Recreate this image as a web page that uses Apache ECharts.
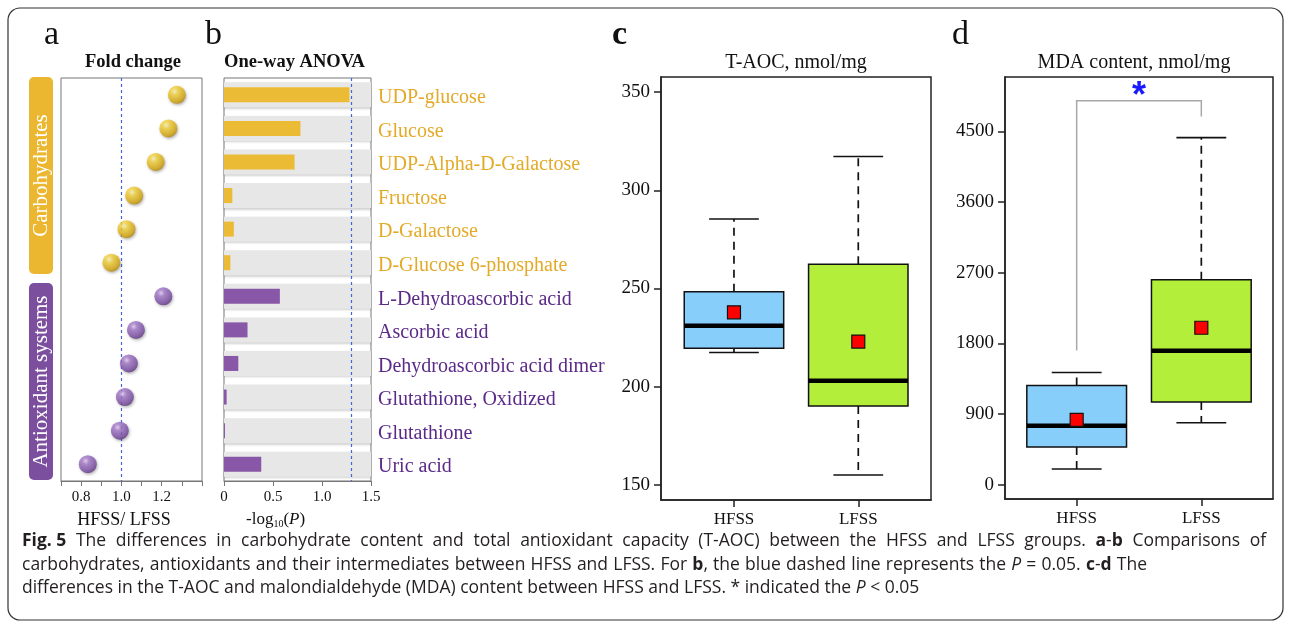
<!DOCTYPE html>
<html><head><meta charset="utf-8">
<script src="https://cdn.jsdelivr.net/npm/echarts@6/dist/echarts.min.js"></script>
<style>html,body{margin:0;padding:0;background:#fff}#c{width:1290px;height:628px}</style>
</head><body><div id="c"></div>
<script>
// ---------------- data ----------------
const categories = ['UDP-glucose','Glucose','UDP-Alpha-D-Galactose','Fructose','D-Galactose','D-Glucose 6-phosphate',
  'L-Dehydroascorbic acid','Ascorbic acid','Dehydroascorbic acid dimer','Glutathione, Oxidized','Glutathione','Uric acid'];
const groupNames = ['Carbohydrates','Antioxidant systems'];
const groupOf = [0,0,0,0,0,0,1,1,1,1,1,1];
const foldChange = [1.275,1.233,1.170,1.063,1.025,0.950,1.208,1.072,1.037,1.017,0.992,0.833];
const negLogP = [1.28,0.78,0.72,0.085,0.10,0.065,0.57,0.24,0.146,0.027,0.01,0.38];
const foldTickLabels = ['0.8','1.0','1.2'];
const pTickLabels = ['0','0.5','1.0','1.5'];
const boxCats = ['HFSS','LFSS'];
// [min, Q1, median, Q3, max]
const taocHFSS = [217.4,219.6,231.1,248.4,285.4];
const taocLFSS = [155.1,190.2,203.0,262.4,317.2];
const taocMean = [237.9,223.0];
const mdaHFSS = [200,480,751,1264,1430];
const mdaLFSS = [789,1053,1706,2610,4421];
const mdaMean = [827,1999];
const taocTicks = [150,200,250,300,350];
const mdaTicks = [0,900,1800,2700,3600,4500];
const sigLegs = [1710,4690];
const sigTop = 4890;

// ---------------- styles ----------------
const SERIF = 'Liberation Serif';
const GOLD_TXT = '#E3AA28', PUR_TXT = '#5B2A89';
const GOLD_BAR = '#ECBB35', PUR_BAR = '#8957A8';
const GOLD_BOX = '#EBB731', PUR_BOX = '#7B4F9E';
const REF_BLUE = '#3f66e0';
const boxFill = ['#87CEFA','#B3EE3A'];
const ballGrad = [
  {type:'radial',x:0.38,y:0.32,r:0.75,colorStops:[{offset:0,color:'#fff8cc'},{offset:0.25,color:'#f7d63e'},{offset:0.75,color:'#d8a80f'},{offset:1,color:'#a87c05'}]},
  {type:'radial',x:0.38,y:0.32,r:0.75,colorStops:[{offset:0,color:'#e6d0f6'},{offset:0.25,color:'#a67bcc'},{offset:0.75,color:'#7a4ca3'},{offset:1,color:'#553075'}]}
];
const GA = {left:61, top:78, width:141, height:403};
const GB = {left:224, top:78, width:147, height:403};
const GC = {left:661, top:77, width:270, height:423};
const GD = {left:1005, top:77, width:268, height:422};

const chart = echarts.init(document.getElementById('c'), null, {renderer:'canvas'});

function boxItem(x, s, mean, ci) {
  return {value:[x, s[0], s[1], s[2], s[3], s[4], mean], itemStyle:{color:boxFill[ci]}};
}
function renderBox(params, api) {
  const x = api.value(0);
  const lo = api.value(1), q1 = api.value(2), med = api.value(3), q3 = api.value(4), hi = api.value(5), mean = api.value(6);
  const fill = api.visual('color');
  const cx = api.coord([x, med])[0];
  const xl = api.coord([x-0.4, med])[0], xr = api.coord([x+0.4, med])[0];
  const cl = api.coord([x-0.2, med])[0], cr = api.coord([x+0.2, med])[0];
  const y = v => api.coord([x, v])[1];
  const st = {stroke:'#111', lineWidth:1.6};
  const m = api.coord([x, mean]);
  return {type:'group', children:[
    {type:'line', shape:{x1:cx,y1:y(q3),x2:cx,y2:y(hi)}, style:{stroke:'#111',lineWidth:1.7,lineDash:[8,6]}},
    {type:'line', shape:{x1:cx,y1:y(q1),x2:cx,y2:y(lo)}, style:{stroke:'#111',lineWidth:1.7,lineDash:[8,6]}},
    {type:'line', shape:{x1:cl,y1:y(hi),x2:cr,y2:y(hi)}, style:st},
    {type:'line', shape:{x1:cl,y1:y(lo),x2:cr,y2:y(lo)}, style:st},
    {type:'rect', shape:{x:xl,y:y(q3),width:xr-xl,height:y(q1)-y(q3)}, style:{fill:fill,stroke:'#111',lineWidth:1.5}},
    {type:'line', shape:{x1:xl,y1:y(med),x2:xr,y2:y(med)}, style:{stroke:'#000',lineWidth:4.5}},
    {type:'rect', shape:{x:m[0]-6.5,y:m[1]-6.5,width:13,height:13}, style:{fill:'#FF0000',stroke:'#111',lineWidth:1.2}}
  ]};
}
function renderSig(params, api) {
  const a = api.coord([api.value(0), api.value(2)]);
  const t1 = api.coord([api.value(0), api.value(4)]);
  const t2 = api.coord([api.value(1), api.value(4)]);
  const b = api.coord([api.value(1), api.value(3)]);
  return {type:'group', children:[
    {type:'polyline', shape:{points:[a,t1,t2,b]}, style:{stroke:'#a8a8a8',lineWidth:1.5,fill:null}},
    {type:'text', x:(t1[0]+t2[0])/2, y:t1[1]+14, style:{text:'*',fill:'#1a1aff',font:'bold 36px "Liberation Sans"',align:'center',verticalAlign:'bottom'}}
  ]};
}

const valAxisCommon = (grid, ticks, fs) => ({
  type:'value', gridIndex:grid,
  axisLine:{show:true,onZero:false,lineStyle:{color:'#222',width:1.5}},
  axisTick:{show:true,length:7,lineStyle:{color:'#222',width:1.5},customValues:ticks},
  axisLabel:{customValues:ticks,margin:11,fontFamily:SERIF,fontSize:fs,color:'#111',formatter:v=>String(v)},
  splitLine:{show:false}
});

const capFont = '17.5px "Open Sans"';
const line1Words = ['{b|Fig. 5}','The','differences','in','carbohydrate','content','and','total','antioxidant','capacity','(T-AOC)','between','the','HFSS','and','LFSS','groups.','{b|a}-{b|b}','Comparisons','of'];
const line2Words = ['carbohydrates,','antioxidants','and','their','intermediates','between','HFSS','and','LFSS.','For','{b|b},','the','blue','dashed','line','represents','the','{i|P}','=','0.05.','{b|c}-{b|d}','The'];
const capRich = {
  b:{fontWeight:'bold',fontFamily:'Open Sans',fontSize:17.5},
  i:{fontStyle:'italic',fontFamily:'Open Sans',fontSize:17.5},
  w:{width:9.6,fontFamily:'Open Sans',fontSize:17.5},
  w2:{width:5.2,fontFamily:'Open Sans',fontSize:17.5}
};

const option = {
  animation:false,
  backgroundColor:'#fff',
  grid:[
    Object.assign({show:true,borderColor:'#777',borderWidth:1,backgroundColor:'transparent'}, GA),
    Object.assign({show:true,borderColor:'#777',borderWidth:1,backgroundColor:'transparent'}, GB),
    Object.assign({show:true,borderColor:'#222',borderWidth:1.5,backgroundColor:'transparent'}, GC),
    Object.assign({show:true,borderColor:'#222',borderWidth:1.5,backgroundColor:'transparent'}, GD)
  ],
  xAxis:[
    {type:'value',gridIndex:0,min:0.7,max:1.4,interval:0.1,
      axisLine:{show:true,onZero:false,lineStyle:{color:'#777'}},
      axisTick:{show:true,length:5,lineStyle:{color:'#777'}},
      axisLabel:{margin:9,fontFamily:SERIF,fontSize:15,color:'#111',showMinLabel:true,showMaxLabel:true,
        formatter:v=>{const s=v.toFixed(1);return foldTickLabels.includes(s)?s:'';}},
      splitLine:{show:false}},
    {type:'value',gridIndex:1,min:0,max:1.5,interval:0.5,
      axisLine:{show:true,onZero:false,lineStyle:{color:'#777'}},
      axisTick:{show:true,length:5,lineStyle:{color:'#777'}},
      axisLabel:{margin:9,fontFamily:SERIF,fontSize:15,color:'#111',
        formatter:v=>{const s=v===0?'0':v.toFixed(1);return pTickLabels.includes(s)?s:'';}},
      splitLine:{show:false}},
    Object.assign(valAxisCommon(2,[1,2],17),{min:0.413,max:2.585,
      axisLabel:{customValues:[1,2],margin:11,fontFamily:SERIF,fontSize:17,color:'#111',formatter:v=>boxCats[Math.round(v)-1]||''}}),
    Object.assign(valAxisCommon(3,[1,2],17),{min:0.425,max:2.575,
      axisLabel:{customValues:[1,2],margin:11,fontFamily:SERIF,fontSize:17,color:'#111',formatter:v=>boxCats[Math.round(v)-1]||''}})
  ],
  yAxis:[
    {type:'category',gridIndex:0,data:categories,inverse:true,show:false},
    {type:'category',gridIndex:1,data:categories,inverse:true,position:'right',
      axisLine:{show:false},axisTick:{show:false},
      axisLabel:{show:true,margin:7,fontFamily:SERIF,fontSize:20,
        formatter:(v,i)=>'{'+(groupOf[i]===0?'g':'p')+'|'+v+'}',
        rich:{
          g:{color:GOLD_TXT,fontFamily:SERIF,fontSize:20,padding:[6,0,0,0]},
          p:{color:PUR_TXT,fontFamily:SERIF,fontSize:20,padding:[6,0,0,0]}
        }}},
    {type:'category',gridIndex:1,data:categories,inverse:true,show:false},
    Object.assign(valAxisCommon(2,taocTicks,19),{min:142.36,max:357.64}),
    Object.assign(valAxisCommon(3,mdaTicks,19),{min:-182,max:5193})
  ],
  series:[
    {type:'scatter',xAxisIndex:0,yAxisIndex:0,symbolSize:18,z:5,
      data:foldChange.map((v,i)=>({value:[v,i],itemStyle:{color:ballGrad[groupOf[i]]}})),
      itemStyle:{shadowBlur:3,shadowColor:'rgba(0,0,0,0.35)',shadowOffsetX:1,shadowOffsetY:1.5},
      markLine:{silent:true,symbol:'none',label:{show:false},
        lineStyle:{color:REF_BLUE,type:[3,3],width:1.2,opacity:1},
        emphasis:{disabled:true},
        data:[{xAxis:1.0,lineStyle:{color:REF_BLUE,type:[3,3],width:1.2}}]}},
    {type:'bar',xAxisIndex:1,yAxisIndex:2,barWidth:25,silent:true,z:1,
      data:categories.map(()=>1.5),
      itemStyle:{color:'#e7e7e7',shadowBlur:2,shadowColor:'rgba(0,0,0,0.18)',shadowOffsetY:1.5}},
    {type:'bar',xAxisIndex:1,yAxisIndex:1,barWidth:15,z:3,
      data:negLogP.map((v,i)=>({value:v,itemStyle:{color:groupOf[i]===0?GOLD_BAR:PUR_BAR}})),
      markLine:{silent:true,symbol:'none',label:{show:false},
        lineStyle:{color:REF_BLUE,type:[3,3],width:1.2,opacity:1},
        emphasis:{disabled:true},
        data:[{xAxis:1.30103,lineStyle:{color:REF_BLUE,type:[3,3],width:1.2}}]}},
    {type:'custom',xAxisIndex:2,yAxisIndex:3,renderItem:renderBox,clip:false,
      data:[boxItem(1,taocHFSS,taocMean[0],0),boxItem(2,taocLFSS,taocMean[1],1)]},
    {type:'custom',xAxisIndex:3,yAxisIndex:4,renderItem:renderBox,clip:false,
      data:[boxItem(1,mdaHFSS,mdaMean[0],0),boxItem(2,mdaLFSS,mdaMean[1],1)]},
    {type:'custom',xAxisIndex:3,yAxisIndex:4,renderItem:renderSig,clip:false,
      data:[[1,2,sigLegs[0],sigLegs[1],sigTop]]}
  ],
  graphic:[
    {type:'rect',shape:{x:8,y:8,width:1275,height:612,r:12},style:{fill:null,stroke:'#333',lineWidth:1.2},silent:true},
    // panel letters
    {type:'text',x:44,y:52,style:{text:'a',font:'34px "Liberation Serif"',fill:'#111',verticalAlign:'bottom'}},
    {type:'text',x:205,y:52,style:{text:'b',font:'34px "Liberation Serif"',fill:'#111',verticalAlign:'bottom'}},
    {type:'text',x:612,y:52,style:{text:'c',font:'bold 34px "Liberation Serif"',fill:'#111',verticalAlign:'bottom'}},
    {type:'text',x:952,y:52,style:{text:'d',font:'34px "Liberation Serif"',fill:'#111',verticalAlign:'bottom'}},
    // panel titles
    {type:'text',x:133,y:62,style:{text:'Fold change',font:'bold 18.5px "Liberation Serif"',fill:'#111',align:'center',verticalAlign:'middle'}},
    {type:'text',x:224,y:62,style:{text:'One-way ANOVA',font:'bold 18.5px "Liberation Serif"',fill:'#111',align:'left',verticalAlign:'middle'}},
    {type:'text',x:796,y:63,style:{text:'T-AOC, nmol/mg',font:'20px "Liberation Serif"',fill:'#111',align:'center',verticalAlign:'middle'}},
    {type:'text',x:1134,y:63,style:{text:'MDA content, nmol/mg',font:'20px "Liberation Serif"',fill:'#111',align:'center',verticalAlign:'middle'}},
    // axis titles a, b
    {type:'text',x:124,y:520,style:{text:'HFSS/ LFSS',font:'18px "Liberation Serif"',fill:'#111',align:'center',verticalAlign:'middle'}},
    {type:'text',x:246,y:520,style:{text:'-log{s|10}({i|P})',font:'17px "Liberation Serif"',fill:'#111',align:'left',verticalAlign:'middle',
      rich:{s:{fontSize:10,fontFamily:SERIF,padding:[8,0,0,0]},i:{fontStyle:'italic',fontSize:17,fontFamily:SERIF}}}},
    // group boxes
    {type:'rect',shape:{x:29,y:77,width:24,height:197,r:5},style:{fill:GOLD_BOX}},
    {type:'text',x:41,y:175.5,rotation:Math.PI/2,style:{text:groupNames[0],font:'21px "Liberation Serif"',fill:'#fff',align:'center',verticalAlign:'middle'}},
    {type:'rect',shape:{x:29,y:283,width:24,height:197,r:5},style:{fill:PUR_BOX}},
    {type:'text',x:41,y:381.5,rotation:Math.PI/2,style:{text:groupNames[1],font:'21px "Liberation Serif"',fill:'#fff',align:'center',verticalAlign:'middle'}},
    // caption
    {type:'text',x:22,y:541,style:{text:line1Words.join('{w| }'),font:capFont,fill:'#231f20',verticalAlign:'middle',rich:capRich}},
    {type:'text',x:22,y:565,style:{text:line2Words.join('{w2| }'),font:capFont,fill:'#231f20',verticalAlign:'middle',rich:capRich}},
    {type:'text',x:22,y:588,style:{text:'differences in the T-AOC and malondialdehyde (MDA) content between HFSS and LFSS. * indicated the {i|P} < 0.05',
      font:capFont,fill:'#231f20',verticalAlign:'middle',rich:capRich}}
  ]
};
chart.setOption(option);
</script></body></html>
